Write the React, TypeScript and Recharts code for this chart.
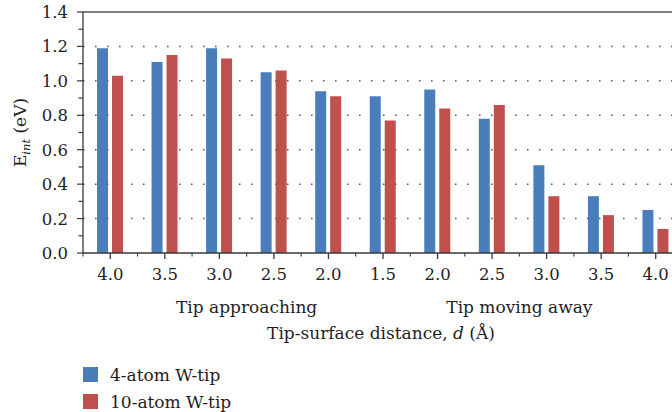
import { BarChart, Bar, XAxis, YAxis, CartesianGrid, ReferenceLine, Label } from 'recharts'

const distances = ['4.0', '3.5', '3.0', '2.5', '2.0', '1.5', '2.0', '2.5', '3.0', '3.5', '4.0']
const fourAtom = [1.19, 1.11, 1.19, 1.05, 0.94, 0.91, 0.95, 0.78, 0.51, 0.33, 0.25]
const tenAtom = [1.03, 1.15, 1.13, 1.06, 0.91, 0.77, 0.84, 0.86, 0.33, 0.22, 0.14]
const yTicks = [0, 0.1, 0.2, 0.3, 0.4, 0.5, 0.6, 0.7, 0.8, 0.9, 1.0, 1.1, 1.2, 1.3, 1.4]
const gridValues = [0.2, 0.4, 0.6, 0.8, 1.0, 1.2]
// phase label sits on the boundary after this category index
const phases = [
  { after: 2, text: 'Tip approaching' },
  { after: 7, text: 'Tip moving away' },
]

const series = [
  { key: 'four', name: '4-atom W-tip', color: '#4A7EBB' },
  { key: 'ten', name: '10-atom W-tip', color: '#C0504D' },
]

const data = distances.map((d, i) => ({ idx: i, d, four: fourAtom[i], ten: tenAtom[i] }))

const FONT = 'DejaVu Serif'
const AXIS = '#3a3a3a'
const TEXT = '#1e1e1e'

function XTick(props: any) {
  const { x, y, payload, index, width, visibleTicksCount } = props
  const band = (width || 600) / (visibleTicksCount || distances.length)
  const phase = phases.find((p) => p.after === index)
  return (
    <g>
      <line x1={x} x2={x} y1={y} y2={y + 6} stroke={AXIS} strokeWidth={1.3} />
      <line x1={x - band / 2} x2={x - band / 2} y1={y} y2={y + 3.5} stroke={AXIS} strokeWidth={1.1} />
      {index === visibleTicksCount - 1 && (
        <line x1={x + band / 2} x2={x + band / 2} y1={y} y2={y + 3.5} stroke={AXIS} strokeWidth={1.1} />
      )}
      <text x={x} y={y + 27} textAnchor="middle" fontFamily={FONT} fontSize={16.5} fill={TEXT}>
        {distances[payload.value]}
      </text>
      {phase && (
        <text x={x + band / 2} y={y + 60} textAnchor="middle" fontFamily={FONT} fontSize={17} fill={TEXT}>
          {phase.text}
        </text>
      )}
    </g>
  )
}

function YTick(props: any) {
  const { x, y, payload, index } = props
  const major = index % 2 === 0
  return (
    <g>
      <line x1={x - (major ? 6 : 4.5)} x2={x} y1={y} y2={y} stroke={AXIS} strokeWidth={1.2} />
      {major && (
        <text x={x - 15} y={y} dy="0.36em" textAnchor="end" fontFamily={FONT} fontSize={16.5} fill={TEXT}>
          {payload.value.toFixed(1)}
        </text>
      )}
    </g>
  )
}

function XTitle(props: any) {
  const { x, y, width } = props.viewBox
  return (
    <text x={x + width / 2 - 2} y={y + 86} textAnchor="middle" fontFamily={FONT} fontSize={17} fill={TEXT}>
      Tip-surface distance, <tspan fontStyle="italic">d</tspan> (Å)
    </text>
  )
}

function YTitle(props: any) {
  const { y, height } = props.viewBox
  const cx = 26
  const cy = y + height / 2
  return (
    <text transform={`translate(${cx},${cy}) rotate(-90)`} textAnchor="middle" fontFamily={FONT} fontSize={17} fill={TEXT}>
      E<tspan fontStyle="italic" fontSize={11.5} dy={4}>int</tspan>
      <tspan dy={-4}> (eV)</tspan>
    </text>
  )
}

export default function App() {
  return (
    <div style={{ position: 'relative', width: 672, height: 412, overflow: 'hidden', background: '#fff' }}>
      <style>{'body{margin:0}'}</style>
      <BarChart
        width={683}
        height={412}
        data={data}
        margin={{ top: 12, right: 0, bottom: 0, left: 0 }}
        barSize={11}
        barGap={4}
      >
        <CartesianGrid
          vertical={false}
          horizontalValues={gridValues}
          stroke="#555"
          strokeWidth={1.5}
          strokeDasharray="1.5 10.5"
        />
        <ReferenceLine y={1.4} stroke="#555" strokeWidth={1.5} />
        <XAxis
          dataKey="idx"
          height={159}
          interval={0}
          tickSize={0}
          tickMargin={0}
          tickLine={false}
          axisLine={{ stroke: AXIS, strokeWidth: 1.3 }}
          tick={<XTick />}
        >
          <Label content={<XTitle />} />
        </XAxis>
        <YAxis
          width={83}
          domain={[0, 1.4]}
          ticks={yTicks}
          interval={0}
          tickSize={0}
          tickMargin={0}
          tickLine={false}
          axisLine={{ stroke: AXIS, strokeWidth: 1.3 }}
          tick={<YTick />}
        >
          <Label content={<YTitle />} />
        </YAxis>
        {series.map((s) => (
          <Bar key={s.key} dataKey={s.key} name={s.name} fill={s.color} isAnimationActive={false} />
        ))}
      </BarChart>
      <div style={{ position: 'absolute', left: 83, top: 361, fontFamily: FONT, fontSize: 17, color: TEXT }}>
        {series.map((s) => (
          <div key={s.key} style={{ display: 'flex', alignItems: 'center', height: 27, lineHeight: '20px' }}>
            <span style={{ width: 15, height: 15, background: s.color, display: 'inline-block', marginRight: 12 }} />
            <span>{s.name}</span>
          </div>
        ))}
      </div>
    </div>
  )
}
